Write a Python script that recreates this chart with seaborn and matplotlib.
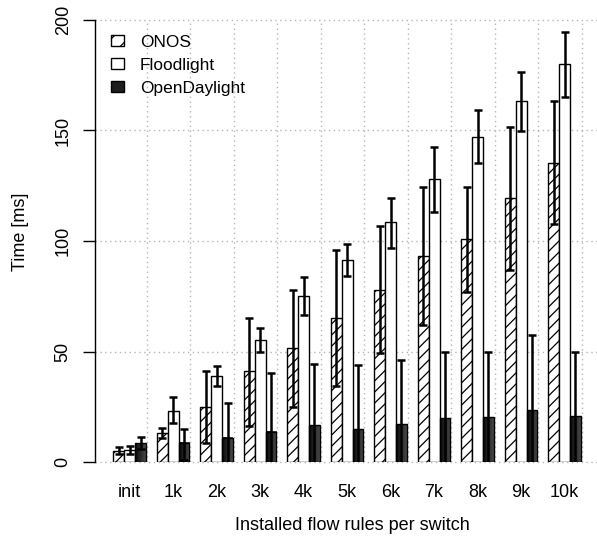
import numpy as np
import pandas as pd
import seaborn as sns
import matplotlib.pyplot as plt
from matplotlib.patches import Patch
from matplotlib.colors import LinearSegmentedColormap

# Flow rule steps and install times (ms)
steps = ['init', '1k', '2k', '3k', '4k', '5k', '6k', '7k', '8k', '9k', '10k']
controllers = ['ONOS', 'Floodlight', 'OpenDaylight']

onos = [5.0, 13.0, 25.0, 41.0, 51.4, 65.0, 77.8, 93.2, 101.0, 119.5, 135.3]
onos_lo = [3.6, 10.7, 8.7, 16.3, 24.7, 34.4, 49.2, 62.0, 77.0, 87.0, 107.7]
onos_hi = [7.0, 15.5, 41.2, 65.0, 77.8, 96.0, 106.8, 124.6, 124.6, 151.6, 163.5]

flood = [5.4, 23.2, 38.9, 55.2, 75.1, 91.4, 108.5, 127.9, 147.2, 163.2, 180.0]
flood_lo = [3.6, 17.5, 34.4, 49.9, 66.7, 84.3, 97.0, 113.3, 135.2, 149.8, 165.2]
flood_hi = [7.2, 29.3, 43.4, 60.5, 83.6, 98.5, 119.6, 142.7, 159.3, 176.5, 194.4]

odl = [8.4, 8.7, 11.0, 13.7, 16.7, 14.8, 17.0, 19.8, 20.2, 23.5, 20.8]
odl_lo = [5.9, 1.0, -4.5, -12.7, -10.9, -14.3, -12.2, -10.0, -9.5, -10.5, -8.3]
odl_hi = [11.2, 14.8, 26.5, 40.1, 44.3, 43.9, 46.2, 49.6, 49.9, 57.5, 49.9]

plt.rcParams['font.family'] = ['Liberation Sans', 'DejaVu Sans']
plt.rcParams['hatch.linewidth'] = 0.9

df = pd.DataFrame({
    'step': steps * 3,
    'controller': np.repeat(controllers, len(steps)),
    'time': onos + flood + odl,
})

fig = plt.figure(figsize=(5.97, 5.46), dpi=100)
ax = fig.add_axes([0.1585, 0.1538, 0.8415, 0.8096])

sns.barplot(data=df, x='step', y='time', hue='controller', order=steps,
            hue_order=controllers, palette=['white', 'white', 'black'],
            saturation=1, width=0.75, edgecolor='black', linewidth=1.0,
            errorbar=None, legend=False, ax=ax)

# hatching for ONOS
for bar in ax.containers[0]:
    bar.set_hatch('///')
    bar.set_zorder(2)
for bar in ax.containers[1]:
    bar.set_zorder(2)

# dark gradient fill for OpenDaylight
grad_cmap = LinearSegmentedColormap.from_list('odl', ['#080808', '#4a4a4a'])
grad = np.linspace(0, 1, 64).reshape(1, -1)
for bar in ax.containers[2]:
    x, w, h = bar.get_x(), bar.get_width(), bar.get_height()
    ax.imshow(grad, extent=(x, x + w, 0, h), aspect='auto', cmap=grad_cmap,
              zorder=1.5, interpolation='bilinear')
    bar.set_facecolor('none')
    bar.set_zorder(2)

# error bars
series = [(onos, onos_lo, onos_hi), (flood, flood_lo, flood_hi), (odl, odl_lo, odl_hi)]
for cont, (vals, lo, hi) in zip(ax.containers, series):
    centers = [b.get_x() + b.get_width() / 2 for b in cont]
    vals = np.array(vals)
    yerr = [vals - np.array(lo), np.array(hi) - vals]
    ax.errorbar(centers, vals, yerr=yerr, fmt='none', ecolor='black',
                elinewidth=1.8, capsize=2.6, capthick=1.8, zorder=3)

# dotted grid
ax.set_yticks([0, 50, 100, 150, 200])
for yv in [0, 50, 100, 150, 200]:
    ax.axhline(yv, color='#b5b5b5', lw=1, ls=(0, (1, 2.5)), zorder=0, clip_on=False)
for xv in np.arange(len(steps)) + 0.39:
    ax.plot([xv, xv], [0, 200], color='#b5b5b5', lw=1, ls=(0, (1, 2.5)), zorder=0)

ax.set_xlim(-0.805, 10.745)
ax.set_ylim(0, 200)

for s in ['top', 'right', 'bottom']:
    ax.spines[s].set_visible(False)
ax.spines['left'].set_bounds(0, 200)
ax.spines['left'].set_linewidth(1.0)

ax.tick_params(axis='y', length=8.5, width=1, direction='out', pad=8,
               labelrotation=90, labelsize=13)
ax.tick_params(axis='x', length=0, pad=16, labelsize=13)
for lab in ax.get_yticklabels():
    lab.set_va('center')

ax.set_xlabel('Installed flow rules per switch', fontsize=13)
ax.xaxis.set_label_coords(0.514, -0.125)
ax.set_ylabel('Time [ms]', fontsize=13)
ax.yaxis.set_label_coords(-0.13, 0.52)

handles = [Patch(facecolor='white', edgecolor='black', hatch='//', lw=1),
           Patch(facecolor='white', edgecolor='black', lw=1),
           Patch(facecolor='#1e1e1e', edgecolor='black', lw=1)]
ax.legend(handles, controllers, loc='upper left',
          bbox_to_anchor=(110.7 / 597, 1 - 35 / 546), bbox_transform=fig.transFigure,
          frameon=False, borderpad=0, borderaxespad=0, handlelength=0.75,
          handleheight=0.6, handletextpad=0.95, labelspacing=0.45, fontsize=12.4)

fig.savefig('out.png', dpi=100)
